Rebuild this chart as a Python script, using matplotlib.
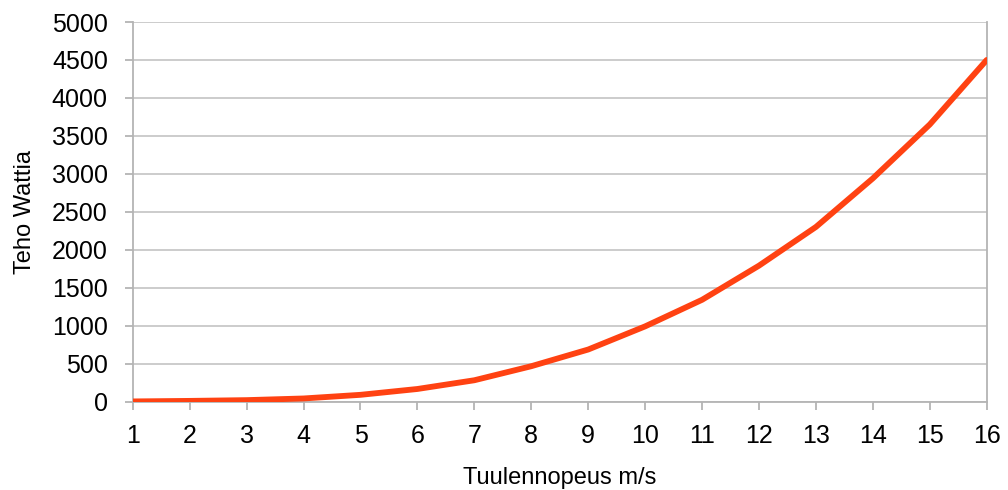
import matplotlib
matplotlib.use("Agg")
import matplotlib.pyplot as plt

# Wind speed (m/s) and power output (W)
wind_speed = [1, 2, 3, 4, 5, 6, 7, 8, 9, 10, 11, 12, 13, 14, 15, 16]
power_w = [1, 8, 18, 40, 88, 165, 280, 465, 685, 990, 1340, 1790, 2300, 2940, 3650, 4500]
y_ticks = [0, 500, 1000, 1500, 2000, 2500, 3000, 3500, 4000, 4500, 5000]

plt.rcParams["font.family"] = ["Liberation Sans", "DejaVu Sans"]

fig = plt.figure(figsize=(10.08, 4.90), dpi=100)
ax = fig.add_axes([0.1317, 0.1806, 0.8472, 0.7745])

grid_c = "#c8c8c8"
axis_c = "#b4b4b4"

ax.plot(wind_speed, power_w, color="#ff4212", linewidth=4.2,
        solid_capstyle="round", solid_joinstyle="round", zorder=3)

ax.set_xlim(wind_speed[0], wind_speed[-1])
ax.set_ylim(y_ticks[0], y_ticks[-1])
ax.set_xticks(wind_speed)
ax.set_yticks(y_ticks)

ax.yaxis.grid(True, color=grid_c, linewidth=1.3)
ax.set_axisbelow(True)

for side in ("left", "bottom", "right"):
    ax.spines[side].set_color(axis_c)
    ax.spines[side].set_linewidth(1.3)
ax.spines["top"].set_visible(False)

ax.tick_params(axis="both", colors=axis_c, labelcolor="black",
               labelsize=18, length=6, width=1.3, direction="out")
ax.tick_params(axis="y", pad=12)
ax.tick_params(axis="x", pad=10)

ax.set_xlabel("Tuulennopeus m/s", fontsize=17, labelpad=14)
ax.set_ylabel("Teho Wattia", fontsize=17, labelpad=11)

fig.savefig("out.png", dpi=100)
